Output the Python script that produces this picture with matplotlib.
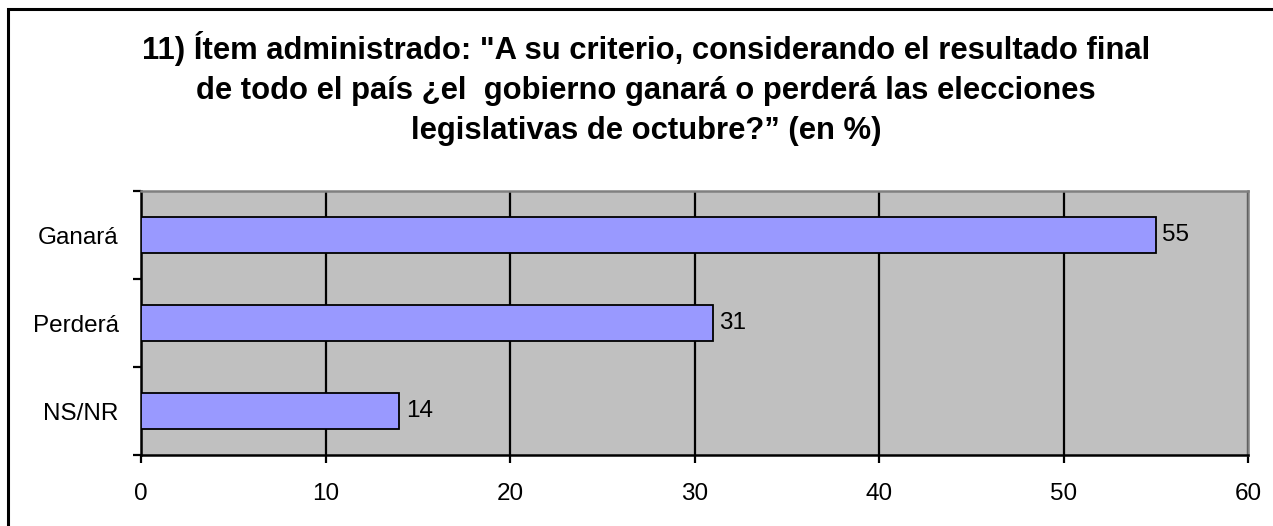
import matplotlib
matplotlib.use("Agg")
import matplotlib.pyplot as plt
from matplotlib.patches import Rectangle

categories = ["Ganará", "Perderá", "NS/NR"]
values = [55, 31, 14]
xticks = [0, 10, 20, 30, 40, 50, 60]
title_lines = ['11) Ítem administrado: "A su criterio, considerando el resultado final',
               'de todo el país ¿el  gobierno ganará o perderá las elecciones',
               'legislativas de octubre?” (en %)']

plt.rcParams['font.family'] = ['Liberation Sans', 'DejaVu Sans']

W, H = 1273, 526
fig = plt.figure(figsize=(W/100, H/100), dpi=100)
fig.patch.set_facecolor('white')

# figure border (left and top visible)
fig.add_artist(Rectangle((8/W, -0.1), 1.2, 1 - 9/H + 0.1, transform=fig.transFigure,
                         fill=False, edgecolor='black', linewidth=2.2))

ax = fig.add_axes([141/W, 1 - 455/H, (1248-141)/W, (455-191)/H])
ax.set_facecolor('#C0C0C0')

ypos = list(range(len(categories)))
ax.barh(ypos, values, height=0.4, color='#9999FF', edgecolor='black', linewidth=1.3, zorder=3)
for y, v in zip(ypos, values):
    ax.text(v + 0.35, y, str(v), va='center', ha='left', fontsize=17.5, zorder=4)

ax.set_xlim(0, 60)
ax.set_ylim(len(categories) - 0.5, -0.5)
ax.set_xticks(xticks)
ax.set_xticklabels([str(t) for t in xticks], fontsize=17.5)
ax.xaxis.grid(True, color='black', linewidth=1.6, zorder=1)
ax.set_axisbelow(True)

ax.set_yticks([i - 0.5 for i in range(len(categories) + 1)])
ax.set_yticklabels([])
ax.set_yticks(ypos, minor=True)
ax.set_yticklabels(categories, minor=True, fontsize=17.5)
ax.tick_params(axis='y', which='major', length=6, width=1.6, direction='out')
ax.tick_params(axis='y', which='minor', length=0, pad=16)
ax.tick_params(axis='x', length=6, width=1.6, direction='out', pad=14)

for s in ['left', 'bottom']:
    ax.spines[s].set_color('black')
    ax.spines[s].set_linewidth(1.8)
for s in ['top', 'right']:
    ax.spines[s].set_color('#808080')
    ax.spines[s].set_linewidth(1.8)

baselines = [59, 98.5, 139]
for line, yb in zip(title_lines, baselines):
    fig.text(646/W, 1 - yb/H, line, ha='center', va='baseline',
             fontsize=22.3, fontweight='bold')

fig.savefig('out.png', dpi=100)
